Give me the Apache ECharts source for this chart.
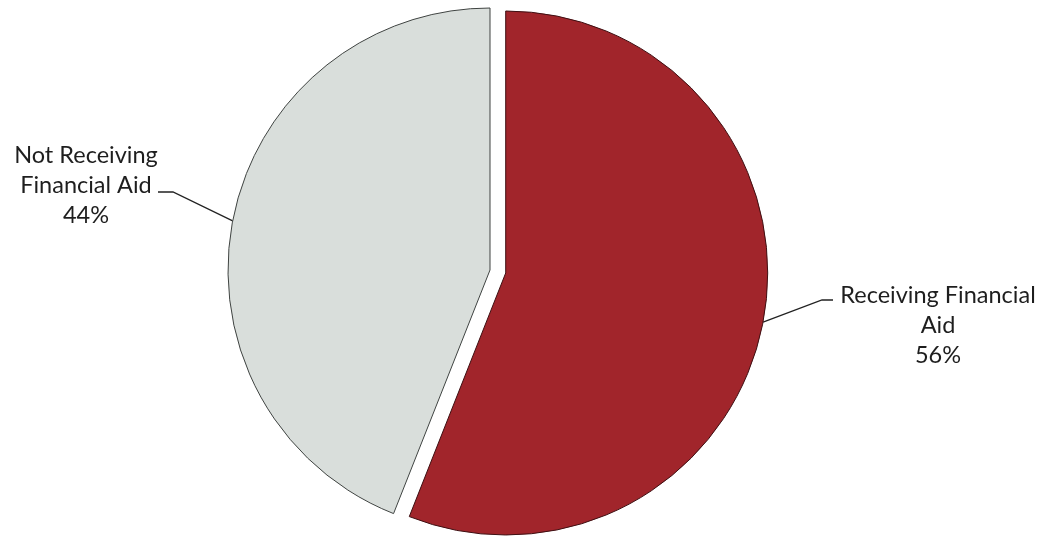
<!DOCTYPE html>
<html>
<head>
<meta charset="utf-8">
<script src="https://cdn.jsdelivr.net/npm/echarts@6/dist/echarts.min.js"></script>
<style>
  html, body { margin: 0; padding: 0; background: #ffffff; }
  #chart { width: 1049px; height: 544px; }
</style>
</head>
<body>
<div id="chart"></div>
<script>
// Share of students by financial aid status
const categories = ['Receiving Financial\nAid', 'Not Receiving\nFinancial Aid'];
const shares = [56, 44];
const sliceColors = ['#a1252b', '#d9dedb'];
const sliceBorders = ['#3e0f12', '#3f4341'];

// Centre of each label block and the leader line's bend and end (page coordinates)
const labelSpots = [
  { cx: 938, cy: 325, bend: [822, 300], end: [833, 300] },
  { cx: 86, cy: 185, bend: [173, 192], end: [158, 192] }
];

const PIE_CENTER = [490, 270];
const EXPLODE = 16;
const START_ANGLE = 90;

// Translation applied to an exploded slice (and its label) along its mid-angle
function explodeShift(index) {
  const total = shares.reduce((a, b) => a + b, 0);
  let before = 0;
  for (let i = 0; i < index; i++) before += shares[i];
  const mid = (before + shares[index] / 2) / total * 2 * Math.PI;
  return [EXPLODE * Math.sin(mid), -EXPLODE * Math.cos(mid)];
}

const chart = echarts.init(document.getElementById('chart'), null, { renderer: 'canvas' });

const data = categories.map((name, i) => ({
  name: name,
  value: shares[i],
  selected: i === 0,
  itemStyle: {
    color: sliceColors[i],
    borderColor: sliceBorders[i],
    borderWidth: 1
  }
}));

chart.setOption({
  animation: false,
  series: [{
    type: 'pie',
    center: PIE_CENTER,
    radius: [0, 262],
    startAngle: START_ANGLE,
    clockwise: true,
    avoidLabelOverlap: false,
    selectedMode: 'single',
    selectedOffset: EXPLODE,
    emphasis: { disabled: true },
    data: data,
    label: {
      show: true,
      position: 'outside',
      formatter: p => p.name + '\n' + p.value + '%',
      fontFamily: 'Lato',
      fontSize: 23.5,
      lineHeight: 30,
      color: '#1e1e1e'
    },
    labelLine: {
      show: true,
      length: 20,
      length2: 10,
      lineStyle: { color: '#222222', width: 1.3 }
    },
    labelLayout: function (params) {
      const i = params.dataIndex;
      const spot = labelSpots[i];
      const shift = data[i].selected ? explodeShift(i) : [0, 0];
      const r = params.labelRect;
      const onRight = r.x + r.width / 2 > PIE_CENTER[0];
      const anchorX = onRight ? r.x : r.x + r.width;
      const local = pt => [pt[0] - shift[0], pt[1] - shift[1]];
      const start = params.labelLinePoints ? params.labelLinePoints[0] : local(spot.bend);
      return {
        align: 'center',
        dx: spot.cx - shift[0] - anchorX,
        dy: spot.cy - shift[1] - (r.y + r.height / 2),
        labelLinePoints: [start, local(spot.bend), local(spot.end)]
      };
    }
  }]
});
</script>
</body>
</html>
